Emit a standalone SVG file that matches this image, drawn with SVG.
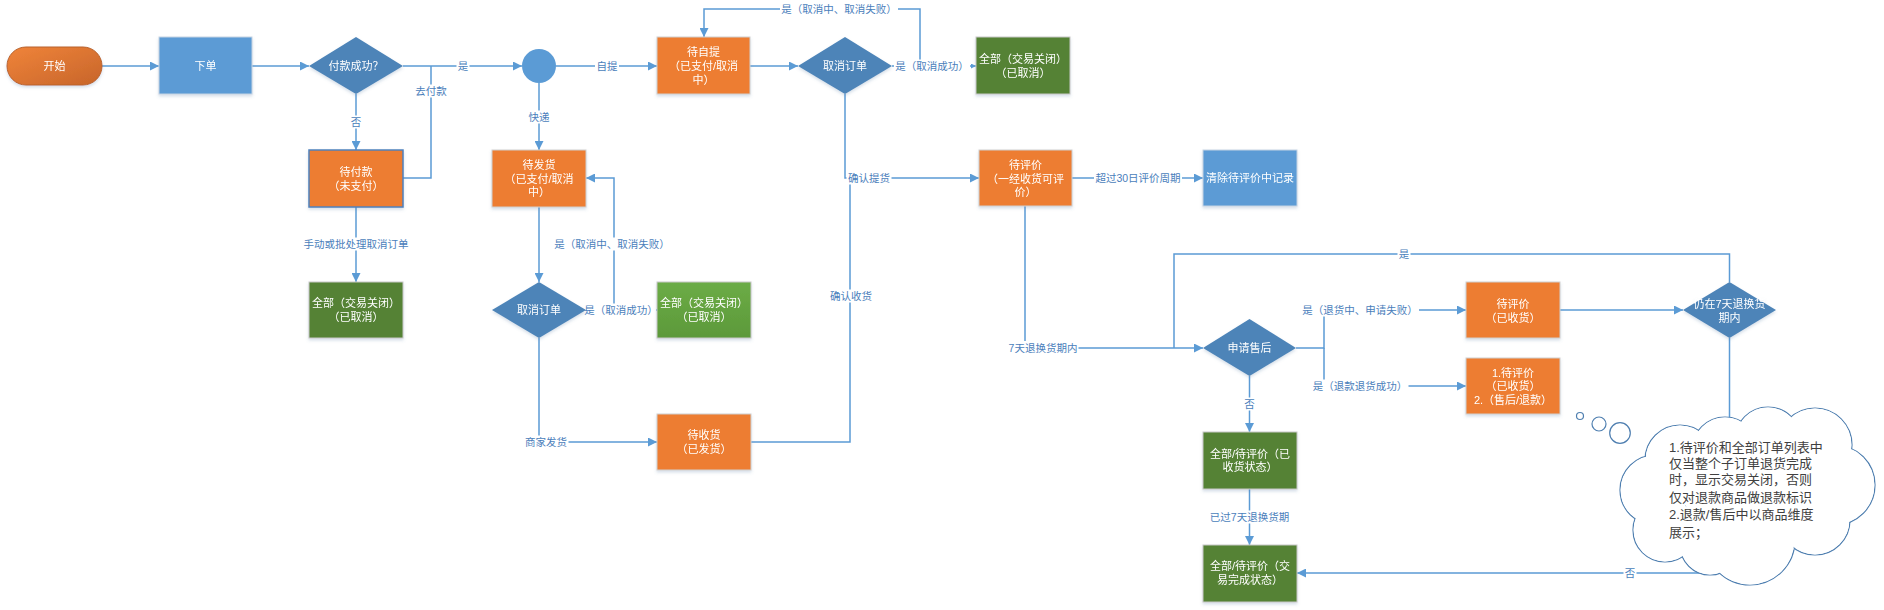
<svg xmlns="http://www.w3.org/2000/svg" width="1884" height="610" viewBox="0 0 1884 610">
<defs>
<style>
.ln{fill:none;stroke:#5b9bd5;stroke-width:1.5}
.lb{font-family:"Liberation Sans","Noto Sans CJK SC",sans-serif;font-size:10.5px;fill:#4a7ebb;text-anchor:middle;dominant-baseline:central}
.bg{fill:#ffffff}
.nt{font-family:"Liberation Sans","Noto Sans CJK SC",sans-serif;font-size:11px;fill:#ffffff;text-anchor:middle;dominant-baseline:central}
.ct{font-family:"Liberation Sans","Noto Sans CJK SC",sans-serif;font-size:13px;fill:#404040;dominant-baseline:central}
.or{fill:#ed7d31;stroke:#d0d0d0;stroke-width:1}
.bl{fill:#5b9bd5;stroke:#c5d3e3;stroke-width:1}
.gr{fill:#548235;stroke:#c8c8c8;stroke-width:1}
.dm{fill:#4d84b8}
.cl{fill:#ffffff;stroke:#4f7fb0;stroke-width:1.2}
.cf{fill:#ffffff}
</style>
<marker id="ar" viewBox="0 0 10 10" refX="10" refY="5" markerWidth="9" markerHeight="9" markerUnits="userSpaceOnUse" orient="auto">
<path d="M0,0 L10,5 L0,10 z" fill="#5b9bd5"/>
</marker>
<marker id="ars" viewBox="0 0 10 10" refX="10" refY="5" markerWidth="5" markerHeight="5" markerUnits="userSpaceOnUse" orient="auto">
<path d="M0,0 L10,5 L0,10 z" fill="#5b9bd5"/>
</marker>
<linearGradient id="gpill" x1="0" y1="0" x2="1" y2="1">
<stop offset="0" stop-color="#f0843a"/>
<stop offset="1" stop-color="#c7652a"/>
</linearGradient>
<linearGradient id="glg" x1="0" y1="0" x2="0" y2="1">
<stop offset="0" stop-color="#6cac46"/>
<stop offset="1" stop-color="#5c993a"/>
</linearGradient>
<filter id="sh" x="-10%" y="-10%" width="120%" height="130%">
<feDropShadow dx="0" dy="2" stdDeviation="1.5" flood-color="#5b7fa8" flood-opacity="0.25"/>
</filter>
</defs>

<g id="connectors">
<path class="ln" d="M102,66 H159" marker-end="url(#ar)"/>
<path class="ln" d="M252,66 H309" marker-end="url(#ar)"/>
<path class="ln" d="M403,66 H522" marker-end="url(#ar)"/>
<path class="ln" d="M356,94 V150" marker-end="url(#ar)"/>
<path class="ln" d="M403,178 H431 V66"/>
<path class="ln" d="M356,207 V282" marker-end="url(#ar)"/>
<path class="ln" d="M539,83 V150" marker-end="url(#ar)"/>
<path class="ln" d="M556,66 H657" marker-end="url(#ar)"/>
<path class="ln" d="M750,66 H798" marker-end="url(#ar)"/>
<path class="ln" d="M892,66 H976" marker-end="url(#ars)"/>
<path class="ln" d="M920,66 V9 H704 V37" marker-end="url(#ar)"/>
<path class="ln" d="M845,94 V178 H979" marker-end="url(#ar)"/>
<path class="ln" d="M539,207 V282" marker-end="url(#ar)"/>
<path class="ln" d="M586,310 H657" marker-end="url(#ar)"/>
<path class="ln" d="M614,310 V178 H586" marker-end="url(#ar)"/>
<path class="ln" d="M539,338 V442 H657" marker-end="url(#ar)"/>
<path class="ln" d="M751,442 H850 V178"/>
<path class="ln" d="M1072,178 H1203" marker-end="url(#ar)"/>
<path class="ln" d="M1025,206 V348 H1203" marker-end="url(#ar)"/>
<path class="ln" d="M1296,348 H1324 V310 H1466" marker-end="url(#ar)"/>
<path class="ln" d="M1324,348 V386 H1466" marker-end="url(#ar)"/>
<path class="ln" d="M1560,310 H1683" marker-end="url(#ar)"/>
<path class="ln" d="M1729.5,282 V254 H1174 V348"/>
<path class="ln" d="M1729.5,338 V573 H1297" marker-end="url(#ar)"/>
<path class="ln" d="M1249.5,376 V432" marker-end="url(#ar)"/>
<path class="ln" d="M1249.5,489 V545" marker-end="url(#ar)"/>

<rect class="bg" x="456.5" y="59.5" width="13" height="13"/><text class="lb" x="463" y="66">是</text>
<rect class="bg" x="414" y="84.5" width="34" height="13"/><text class="lb" x="431" y="91">去付款</text>
<rect class="bg" x="349.5" y="115.5" width="13" height="13"/><text class="lb" x="356" y="122">否</text>
<rect class="bg" x="527" y="110.5" width="24" height="13"/><text class="lb" x="539" y="117">快递</text>
<rect class="bg" x="595" y="59.5" width="24" height="13"/><text class="lb" x="607" y="66">自提</text>
<rect class="bg" x="780" y="2.5" width="118" height="13"/><text class="lb" x="839" y="9">是（取消中、取消失败）</text>
<rect class="bg" x="894" y="59.5" width="76" height="13"/><text class="lb" x="932" y="66">是（取消成功）</text>
<rect class="bg" x="302" y="237.5" width="108" height="13"/><text class="lb" x="356" y="244">手动或批处理取消订单</text>
<rect class="bg" x="553" y="237.5" width="118" height="13"/><text class="lb" x="612" y="244">是（取消中、取消失败）</text>
<rect class="bg" x="587" y="303.5" width="69" height="13"/><text class="lb" x="621" y="310">是（取消成功）</text>
<rect class="bg" x="523.5" y="435.5" width="45" height="13"/><text class="lb" x="546" y="442">商家发货</text>
<rect class="bg" x="846.5" y="171.5" width="45" height="13"/><text class="lb" x="869" y="178">确认提货</text>
<rect class="bg" x="828.5" y="289.5" width="45" height="13"/><text class="lb" x="851" y="296">确认收货</text>
<rect class="bg" x="1094" y="171.5" width="88" height="13"/><text class="lb" x="1138" y="178">超过30日评价周期</text>
<rect class="bg" x="1007.5" y="341" width="71" height="13"/><text class="lb" x="1043" y="347.5">7天退换货期内</text>
<rect class="bg" x="1397.5" y="247.5" width="13" height="13"/><text class="lb" x="1404" y="254">是</text>
<rect class="bg" x="1301" y="303.5" width="118" height="13"/><text class="lb" x="1360" y="310">是（退货中、申请失败）</text>
<rect class="bg" x="1311.5" y="379.5" width="97" height="13"/><text class="lb" x="1360" y="386">是（退款退货成功）</text>
<rect class="bg" x="1243" y="397.5" width="13" height="13"/><text class="lb" x="1249.5" y="404">否</text>
<rect class="bg" x="1208.5" y="510.5" width="82" height="13"/><text class="lb" x="1249.5" y="517">已过7天退换货期</text>
<rect class="bg" x="1623.5" y="566.5" width="13" height="13"/><text class="lb" x="1630" y="573">否</text>
</g>

<g id="n-start" filter="url(#sh)"><rect x="7" y="47" width="95" height="38" rx="19" fill="url(#gpill)" stroke="#b8622a" stroke-width="1"/><text class="nt" x="54.5" y="66">开始</text></g>
<g id="n-xiadan" filter="url(#sh)"><rect class="bl" x="159" y="37" width="93" height="57"/><text class="nt" x="205.5" y="66">下单</text></g>
<g id="n-paid" filter="url(#sh)"><polygon class="dm" points="356,37 403,66 356,94 309,66"/><text class="nt" x="356" y="66">付款成功？</text></g>
<g id="n-hub"><circle cx="539" cy="66" r="17" fill="#5b9bd5"/></g>
<g id="n-unpaid" filter="url(#sh)"><rect x="309" y="150" width="94" height="57" fill="#ed7d31" stroke="#4f81bd" stroke-width="1.5"/><text class="nt" x="356" y="171.5">待付款</text><text class="nt" x="356" y="185.5">（未支付）</text></g>
<g id="n-closed1" filter="url(#sh)"><rect class="gr" x="309" y="282" width="94" height="56"/><text class="nt" x="356" y="303">全部（交易关闭）</text><text class="nt" x="356" y="317">（已取消）</text></g>
<g id="n-toship" filter="url(#sh)"><rect class="or" x="492" y="150" width="94" height="57"/><text class="nt" x="539" y="164.5">待发货</text><text class="nt" x="539" y="178.5">（已支付/取消</text><text class="nt" x="539" y="192">中）</text></g>
<g id="n-cancel2" filter="url(#sh)"><polygon class="dm" points="539,282 586,310 539,338 492,310"/><text class="nt" x="539" y="310">取消订单</text></g>
<g id="n-closed2" filter="url(#sh)"><rect x="657" y="282" width="94" height="56" fill="url(#glg)" stroke="#c8c8c8" stroke-width="1"/><text class="nt" x="704" y="303">全部（交易关闭）</text><text class="nt" x="704" y="317">（已取消）</text></g>
<g id="n-toreceive" filter="url(#sh)"><rect class="or" x="657" y="414" width="94" height="56"/><text class="nt" x="704" y="434.5">待收货</text><text class="nt" x="704" y="449">（已发货）</text></g>
<g id="n-pickup" filter="url(#sh)"><rect class="or" x="657" y="37" width="93" height="57"/><text class="nt" x="703.5" y="52">待自提</text><text class="nt" x="703.5" y="66">（已支付/取消</text><text class="nt" x="703.5" y="80">中）</text></g>
<g id="n-cancel1" filter="url(#sh)"><polygon class="dm" points="845,37 892,66 845,94 798,66"/><text class="nt" x="845" y="66">取消订单</text></g>
<g id="n-closed3" filter="url(#sh)"><rect class="gr" x="976" y="37" width="94" height="57"/><text class="nt" x="1023" y="58.5">全部（交易关闭）</text><text class="nt" x="1023" y="72.5">（已取消）</text></g>
<g id="n-toreview" filter="url(#sh)"><rect class="or" x="979" y="150" width="93" height="56"/><text class="nt" x="1025.5" y="165">待评价</text><text class="nt" x="1025.5" y="178.5">（一经收货可评</text><text class="nt" x="1025.5" y="192">价）</text></g>
<g id="n-clear" filter="url(#sh)"><rect class="bl" x="1203" y="150" width="94" height="56"/><text class="nt" x="1250" y="178">清除待评价中记录</text></g>
<g id="n-aftersale" filter="url(#sh)"><polygon class="dm" points="1249.5,319 1296,348 1249.5,376 1203,348"/><text class="nt" x="1249.5" y="348">申请售后</text></g>
<g id="n-review2" filter="url(#sh)"><rect class="or" x="1466" y="282" width="94" height="56"/><text class="nt" x="1513" y="303.5">待评价</text><text class="nt" x="1513" y="317.5">（已收货）</text></g>
<g id="n-review3" filter="url(#sh)"><rect class="or" x="1466" y="358" width="94" height="56"/><text class="nt" x="1513" y="372.5">1.待评价</text><text class="nt" x="1513" y="386">（已收货）</text><text class="nt" x="1513" y="400">2.（售后/退款）</text></g>
<g id="n-within7" filter="url(#sh)"><polygon class="dm" points="1729.5,282 1776,310 1729.5,338 1683,310"/><text class="nt" x="1729.5" y="303.5">仍在7天退换货</text><text class="nt" x="1729.5" y="317.5">期内</text></g>
<g id="n-received" filter="url(#sh)"><rect class="gr" x="1203" y="432" width="94" height="57"/><text class="nt" x="1250" y="453.5">全部/待评价（已</text><text class="nt" x="1250" y="467">收货状态）</text></g>
<g id="n-complete" filter="url(#sh)"><rect class="gr" x="1203" y="545" width="94" height="57"/><text class="nt" x="1250" y="566">全部/待评价（交</text><text class="nt" x="1250" y="580">易完成状态）</text></g>

<g id="n-note">
<circle class="cl" cx="1580" cy="416" r="3.5"/>
<circle class="cl" cx="1599" cy="424" r="7"/>
<circle class="cl" cx="1620" cy="433" r="10.3"/>
<g>
<circle class="cl" cx="1680" cy="460" r="35"/>
<circle class="cl" cx="1655" cy="490" r="35"/>
<circle class="cl" cx="1665" cy="530" r="32"/>
<circle class="cl" cx="1710" cy="545" r="30"/>
<circle class="cl" cx="1750" cy="540" r="45"/>
<circle class="cl" cx="1815" cy="520" r="35"/>
<circle class="cl" cx="1835" cy="485" r="40"/>
<circle class="cl" cx="1815" cy="445" r="37"/>
<circle class="cl" cx="1768" cy="440" r="33"/>
<circle class="cl" cx="1725" cy="450" r="33"/>
<circle class="cf" cx="1680" cy="460" r="34.4"/>
<circle class="cf" cx="1655" cy="490" r="34.4"/>
<circle class="cf" cx="1665" cy="530" r="31.4"/>
<circle class="cf" cx="1710" cy="545" r="29.4"/>
<circle class="cf" cx="1750" cy="540" r="44.4"/>
<circle class="cf" cx="1815" cy="520" r="34.4"/>
<circle class="cf" cx="1835" cy="485" r="39.4"/>
<circle class="cf" cx="1815" cy="445" r="36.4"/>
<circle class="cf" cx="1768" cy="440" r="32.4"/>
<circle class="cf" cx="1725" cy="450" r="32.4"/>
<circle class="cf" cx="1750" cy="495" r="65"/>
</g>
<text class="ct" x="1669" y="447">1.待评价和全部订单列表中</text>
<text class="ct" x="1669" y="463">仅当整个子订单退货完成</text>
<text class="ct" x="1669" y="479">时，显示交易关闭，否则</text>
<text class="ct" x="1669" y="497">仅对退款商品做退款标识</text>
<text class="ct" x="1669" y="514">2.退款/售后中以商品维度</text>
<text class="ct" x="1669" y="532">展示；</text>
</g>
</svg>
